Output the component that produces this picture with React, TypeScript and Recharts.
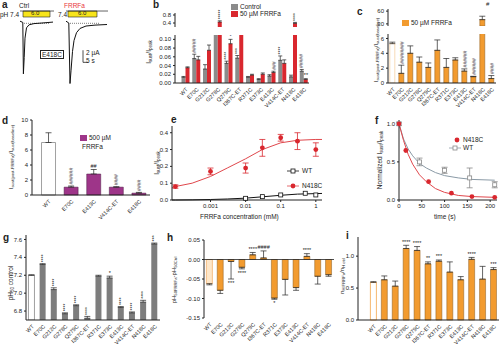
import React from "react";
import {
  ComposedChart, Bar, Line, Scatter, Cell, XAxis, YAxis, ErrorBar,
  ReferenceLine, ReferenceArea,
} from "recharts";

const FONT = "'Liberation Sans', Arial, sans-serif";
const INK = "#222";
const GRAY = "#8b8b8b";
const RED = "#d9272e";
const ORANGE = "#f29b2f";
const PURPLE = "#9e3589";

const mutants = ["WT", "E70C", "G212C", "G278C", "Q279C", "I367C-ET", "R371C", "E373C", "E413C", "V414C-ET", "N418C", "E418C"];
const dMutants = ["WT", "E70C", "E413C", "V414C-ET", "E418C"];

// a: example currents (µA vs s)
const traceCtrl = [
  { t: 20, i: 0 }, { t: 22.8, i: -0.2 }, { t: 23.4, i: -8.7 }, { t: 24.2, i: -6 }, { t: 25, i: -2.8 },
  { t: 26.5, i: -1.1 }, { t: 29, i: -0.6 }, { t: 34, i: -0.4 }, { t: 42, i: -0.3 }, { t: 53, i: -0.15 },
];
const traceFrrfa = [
  { t: 66, i: 0 }, { t: 68.8, i: -0.3 }, { t: 70, i: -10.3 }, { t: 71, i: -8.2 }, { t: 72.5, i: -5 },
  { t: 74, i: -3.2 }, { t: 76.5, i: -1.9 }, { t: 80, i: -1.2 }, { t: 86, i: -0.8 }, { t: 95, i: -0.65 }, { t: 107, i: -0.55 },
];

// b: Isust/Ipeak
const bCtrl = [0.013, 0.056, 0.032, 0.15, 0.045, 0.057, 0.013, 0.008, 0.016, 0.052, 0.014, 0.027];
const bCtrlErr = [0.002, 0.01, 0.01, 0.02, 0.005, 0.006, 0.002, 0.002, 0.003, 0.01, 0.004, 0.004];
const bFrrfa = [0.035, 0.053, 0.075, 0.45, 0.09, 0.12, 0.018, 0.02, 0.024, 0.045, 0.38, 0.008];
const bFrrfaErr = [0.002, 0.008, 0.012, 0.06, 0.01, 0.02, 0.002, 0.003, 0.003, 0.008, 0.05, 0.002];
const bCtrlAnn = ["", "#####", "", "", "****", "***", "", "", "", "****", "", "#####"];
const bFrrfaAnn = ["", "", "", "*****", "*", "", "", "", "###", "", "****", "**"];

// c: Isust post/baseline, 50 µM
const cVals = [5.3, 1.3, 4.0, 2.8, 2.1, 4.4, 2.1, 3.1, 1.6, 0.85, 40, 0.6];
const cErr = [0.2, 1.1, 1.0, 0.7, 0.6, 1.4, 1.2, 0.3, 0.3, 0.05, 8, 0.4];
const cAnn = ["", "########", "", "", "", "", "", "", "######", "######", "#", "####"];

// d: 500 µM
const dVals = [7.0, 1.05, 2.8, 1.05, 0.25];
const dErr = [1.3, 0.15, 0.6, 0.05, 0.1];
const dAnn = ["", "######", "##", "####", "####"];

// e: concentration response
const eConc = [0.0001, 0.001, 0.01, 0.03, 0.1, 0.3, 1];
const eN418C = [0.08, 0.17, 0.19, 0.31, 0.37, 0.35, 0.3];
const eN418CErr = [0.01, 0.02, 0.03, 0.05, 0.02, 0.05, 0.04];
const eWTConc = [0.01, 0.03, 0.1, 0.5, 1];
const eWT = [0.01, 0.02, 0.03, 0.04, 0.03];
const eWTErr = [0.003, 0.003, 0.004, 0.005, 0.004];
const eFitConc = [0.00008, 0.0001, 0.0003, 0.001, 0.003, 0.01, 0.03, 0.1, 0.3, 1, 1.5];
const eN418CFit = [0.075, 0.08, 0.1, 0.14, 0.19, 0.245, 0.3, 0.34, 0.355, 0.36, 0.36];
const eWTFit = [0, 0, 0.001, 0.003, 0.006, 0.011, 0.019, 0.028, 0.035, 0.038, 0.039];

// f: time course
const fTime = [0, 15, 65, 115, 160, 210];
const fN418C = [1.0, 0.65, 0.24, 0.09, 0.045, 0.035];
const fN418CErr = [0.01, 0.03, 0.02, 0.01, 0.01, 0.01];
const fWTTime = [0, 45, 100, 155, 210];
const fWT = [1.0, 0.5, 0.39, 0.29, 0.2];
const fWTErr = [0.02, 0.05, 0.04, 0.13, 0.04];
const fFitTime = [0, 10, 20, 30, 45, 60, 80, 100, 130, 160, 210];
const fN418CFit = [1.0, 0.78, 0.6, 0.47, 0.33, 0.24, 0.15, 0.1, 0.06, 0.045, 0.035];
const fWTFit = [1.0, 0.8, 0.67, 0.58, 0.48, 0.42, 0.36, 0.32, 0.29, 0.27, 0.26];

// g: pH50 control
const gVals = [7.2, 7.32, 7.04, 6.77, 6.86, 6.72, 7.19, 7.17, 6.84, 6.78, 6.9, 7.55];
const gErr = [0.005, 0.01, 0.02, 0.01, 0.01, 0.02, 0.01, 0.02, 0.01, 0.01, 0.02, 0.01];
const gAnn = ["", "****", "****", "****", "****", "****", "", "*", "****", "****", "****", "****"];

// h: ΔpH50
const hVals = [-0.062, -0.079, -0.005, -0.02, 0.012, 0.004, -0.099, -0.051, -0.072, 0.008, -0.043, -0.039];
const hErr = [0.003, 0.008, 0.045, 0.004, 0.006, 0.018, 0.003, 0.04, 0.007, 0.007, 0.02, 0.004];
const hAnn = ["", "", "***", "****", "****", "####", "*", "", "", "****", "", ""];

// i: nH ratio
const iVals = [0.59, 0.63, 0.53, 1.12, 1.09, 0.88, 0.92, 0.75, 0.63, 0.95, 0.64, 0.79];
const iErr = [0.01, 0.06, 0.08, 0.05, 0.06, 0.03, 0.02, 0.16, 0.05, 0.03, 0.2, 0.03];
const iAnn = ["", "", "", "****", "****", "**", "***", "", "", "****", "", "***"];

const rows = (names: string[], vals: number[], errs: number[], anns?: string[]) =>
  names.map((name, k) => ({
    name,
    v: vals[k],
    e: vals[k] < 0 ? [errs[k], 0] : [0, errs[k]],
    top: vals[k] < 0 ? vals[k] - errs[k] : vals[k] + errs[k],
    ann: anns ? anns[k] : "",
  }));
const pts = (xs: number[], ys: number[], es?: number[]) =>
  xs.map((x, k) => ({ x, y: ys[k], e: es ? es[k] : 0 }));

const yAxisStyle = {
  tick: { fontSize: 6, fill: INK, fontFamily: FONT },
  tickSize: 2,
  tickLine: { stroke: INK },
  axisLine: { stroke: INK },
  interval: 0 as const,
};

function SlantTick(props: any) {
  const { x, y, payload } = props;
  return (
    <g transform={`translate(${x},${y})`}>
      <text transform="rotate(-45)" textAnchor="end" dy={4} fontSize={5.5} fontFamily={FONT} fill={INK}>
        {payload.value}
      </text>
    </g>
  );
}

function starShape(vertical: boolean, dx = 0) {
  return (p: any) => {
    const s: string = p.payload?.ann ?? "";
    if (!s || p.cx == null || isNaN(p.cy)) return <g />;
    const below = p.payload.v < 0;
    const x = p.cx + dx;
    if (vertical && s.length > 2) {
      return (
        <text transform={`translate(${x + 2},${p.cy - 1.5}) rotate(-90)`} fontSize={5} fill={INK} fontFamily={FONT}>
          {s}
        </text>
      );
    }
    return (
      <text x={x} y={below ? p.cy + 6 : p.cy - 1.5} textAnchor="middle" fontSize={5.5} fill={INK} fontFamily={FONT}>
        {s}
      </text>
    );
  };
}

const dotShape = (color: string) => (p: any) => <circle cx={p.cx} cy={p.cy} r={2.4} fill={color} />;
const squareShape = (color: string) => (p: any) => (
  <rect x={p.cx - 2} y={p.cy - 2} width={4} height={4} fill="#fff" stroke={color} strokeWidth={0.8} />
);

function Abs({ left, top, children, style }: any) {
  return <div style={{ position: "absolute", left, top, whiteSpace: "nowrap", ...style }}>{children}</div>;
}
function Letter({ left, top, ch }: any) {
  return <Abs left={left} top={top} style={{ fontWeight: "bold", fontSize: 10, lineHeight: "10px" }}>{ch}</Abs>;
}
function VLabel({ cx, cy, children, size = 6.5 }: any) {
  return (
    <div style={{ position: "absolute", left: cx, top: cy, transform: "translate(-50%,-50%) rotate(-90deg)", whiteSpace: "nowrap", fontSize: size, lineHeight: "8px" }}>
      {children}
    </div>
  );
}
const Sub = ({ children }: any) => <sub style={{ fontSize: "70%", verticalAlign: "-1px" }}>{children}</sub>;
function Swatch({ left, top, color, text, size = 6.5 }: any) {
  return (
    <Abs left={left} top={top} style={{ fontSize: size, lineHeight: "7px", display: "flex", alignItems: "center" }}>
      <span style={{ display: "inline-block", width: 7, height: 6, background: color, marginRight: 2 }} />
      {text}
    </Abs>
  );
}
// clips everything above a given line (lower part of a broken axis)
function Clip({ left, top, cut, w, h, children }: any) {
  return (
    <div style={{ position: "absolute", left, top: top + cut, width: w, height: h - cut, overflow: "hidden" }}>
      <div style={{ position: "absolute", left: 0, top: -cut }}>{children}</div>
    </div>
  );
}

function SingleBars({ data, color, wtFill, wtStroke, vertical, stroke }: any) {
  return [
    <Bar key="b" dataKey="v" fill={color} stroke={stroke} strokeWidth={stroke ? 0.5 : 0} isAnimationActive={false}>
      {data.map((r: any, k: number) => (
        <Cell key={k} fill={r.name === "WT" ? wtFill : color} stroke={r.name === "WT" ? wtStroke : stroke} strokeWidth={r.name === "WT" ? 0.8 : 0.5} />
      ))}
      <ErrorBar dataKey="e" width={3} stroke={INK} strokeWidth={0.7} direction="y" />
    </Bar>,
    <Scatter key="s" data={data.filter((r: any) => r.ann && r.v != null)} dataKey="top" shape={starShape(vertical)} isAnimationActive={false} />,
  ];
}

export default function App() {
  const bRows = mutants.map((name, k) => ({
    name, c: bCtrl[k], ce: [0, bCtrlErr[k]], f: bFrrfa[k], fe: [0, bFrrfaErr[k]],
  }));
  const bUpper = bRows.map((r) => ({ ...r, c: null, ce: null, f: r.f > 0.2 ? r.f : null, fe: r.f > 0.2 ? r.fe : null }));
  const bAnnCtrl = mutants
    .map((name, k) => ({ name, v: bCtrl[k], top: bCtrl[k] + bCtrlErr[k], ann: bCtrlAnn[k] }))
    .filter((r) => r.ann && r.top < 0.11);
  const bAnnFrrfa = mutants
    .map((name, k) => ({ name, v: bFrrfa[k], top: bFrrfa[k] + bFrrfaErr[k], ann: bFrrfaAnn[k] }))
    .filter((r) => r.ann);
  const bAnnFLow = bAnnFrrfa.filter((r) => r.top < 0.11);
  const bAnnFHigh = bAnnFrrfa.filter((r) => r.v > 0.2);

  const cRows = rows(mutants, cVals, cErr, cAnn);
  const cLow = cRows.map((r) => ({ ...r, ann: r.v > 6 ? "" : r.ann }));
  const cHigh = cRows.map((r) => (r.v > 25 ? r : { ...r, v: null, e: null, ann: "" }));
  const dRows = rows(dMutants, dVals, dErr, dAnn);
  const gRows = rows(mutants, gVals, gErr, gAnn);
  const hRows = rows(mutants, hVals, hErr, hAnn);
  const iRows = rows(mutants, iVals, iErr, iAnn);

  const sideX = {
    dataKey: "name", interval: 0 as const, tick: <SlantTick />, tickSize: 2, tickLine: false,
    axisLine: { stroke: INK }, allowDuplicatedCategory: false,
  };

  return (
    <div style={{ position: "absolute", left: 0, top: 0, width: 500, height: 352, background: "#fff", fontFamily: FONT, color: INK, overflow: "hidden" }}>
      {/* a */}
      <Letter left={2} top={0} ch="a" />
      <Abs left={0} top={11} style={{ fontSize: 6.5, lineHeight: "7px" }}>pH 7.4</Abs>
      <Abs left={58} top={11} style={{ fontSize: 6.5, lineHeight: "7px" }}>7.4</Abs>
      <Abs left={19} top={2} style={{ fontSize: 6.5, lineHeight: "7px" }}>Ctrl</Abs>
      <Abs left={64} top={2} style={{ fontSize: 6.5, lineHeight: "7px", color: "#e8363c" }}>FRRFa</Abs>
      <div style={{ position: "absolute", left: 0, top: 0 }}>
        <ComposedChart width={125} height={115} margin={{ top: 0, right: 0, bottom: 0, left: 0 }}>
          <XAxis type="number" dataKey="t" domain={[0, 125]} hide />
          <YAxis type="number" dataKey="i" domain={[-15.5, 3.5]} hide />
          <ReferenceLine segment={[{ x: 20, y: 1.68 }, { x: 54, y: 1.68 }]} stroke={INK} strokeWidth={0.7} />
          <ReferenceLine segment={[{ x: 66, y: 1.68 }, { x: 108, y: 1.68 }]} stroke={INK} strokeWidth={0.7} />
          <ReferenceArea x1={23} x2={50} y1={0.69} y2={1.68} fill="#f7e41a" fillOpacity={1} stroke={INK} strokeWidth={0.6} />
          <ReferenceArea x1={68} x2={97} y1={0.69} y2={1.68} fill="#f7e41a" fillOpacity={1} stroke={INK} strokeWidth={0.6} />
          <ReferenceLine segment={[{ x: 24, y: -0.35 }, { x: 50, y: -0.35 }]} stroke={INK} strokeWidth={0.6} strokeDasharray="1 1" />
          <ReferenceLine segment={[{ x: 70, y: -0.35 }, { x: 100, y: -0.35 }]} stroke={INK} strokeWidth={0.6} strokeDasharray="1 1" />
          <ReferenceLine segment={[{ x: 83, y: -4.8 }, { x: 83, y: -6.8 }]} stroke={INK} strokeWidth={0.8} />
          <ReferenceLine segment={[{ x: 83, y: -6.8 }, { x: 88, y: -6.8 }]} stroke={INK} strokeWidth={0.8} />
          <Line data={traceCtrl} dataKey="i" stroke="#111" strokeWidth={1} dot={false} activeDot={false} legendType="none" isAnimationActive={false} />
          <Line data={traceFrrfa} dataKey="i" stroke="#111" strokeWidth={1} dot={false} activeDot={false} legendType="none" isAnimationActive={false} />
        </ComposedChart>
      </div>
      <Abs left={31} top={10} style={{ fontSize: 6, lineHeight: "7px" }}>6.0</Abs>
      <Abs left={78} top={10} style={{ fontSize: 6, lineHeight: "7px" }}>6.0</Abs>
      <Abs left={40} top={50} style={{ fontSize: 6.5, border: "0.8px solid #222", padding: "0 1px", lineHeight: "7px" }}>E418C</Abs>
      <Abs left={86} top={49} style={{ fontSize: 6.5, lineHeight: "7px" }}>2 µA</Abs>
      <Abs left={86} top={57} style={{ fontSize: 6.5, lineHeight: "7px" }}>5 s</Abs>

      {/* b */}
      <Letter left={153} top={0} ch="b" />
      <VLabel cx={150} cy={52}>I<Sub>sust</Sub>/I<Sub>peak</Sub></VLabel>
      <Swatch left={231} top={3} color={GRAY} text="Control" />
      <Swatch left={231} top={10} color={RED} text="50 µM FRRFa" />
      <Clip left={128} top={0} cut={34} w={182} h={115}>
        <ComposedChart width={182} height={115} data={bRows} margin={{ top: 35, right: 1, bottom: 0, left: 0 }} barCategoryGap="14%" barGap={0}>
          <XAxis {...sideX} height={32} padding={{ left: 5, right: 0 }} />
          <YAxis width={47} domain={[0, 0.11]} ticks={[0, 0.02, 0.04, 0.06, 0.08, 0.1]} allowDataOverflow tickFormatter={(v: number) => v.toFixed(2)} {...yAxisStyle} />
          <Bar dataKey="c" fill={GRAY} isAnimationActive={false}>
            <ErrorBar dataKey="ce" width={2} stroke={INK} strokeWidth={0.7} direction="y" />
          </Bar>
          <Bar dataKey="f" fill={RED} isAnimationActive={false}>
            <ErrorBar dataKey="fe" width={2} stroke={INK} strokeWidth={0.7} direction="y" />
          </Bar>
          <Scatter data={bAnnCtrl} dataKey="top" shape={starShape(true, -2.3)} isAnimationActive={false} />
          <Scatter data={bAnnFLow} dataKey="top" shape={starShape(true, 2.3)} isAnimationActive={false} />
        </ComposedChart>
      </Clip>
      <div style={{ position: "absolute", left: 128, top: 0 }}>
        <ComposedChart width={182} height={27} data={bUpper} margin={{ top: 13, right: 1, bottom: 0, left: 0 }} barCategoryGap="14%" barGap={0}>
          <XAxis dataKey="name" hide padding={{ left: 5, right: 0 }} allowDuplicatedCategory={false} />
          <YAxis width={47} domain={[0.2, 0.9]} ticks={[0.4, 0.8]} allowDataOverflow tickFormatter={(v: number) => v.toFixed(1)} {...yAxisStyle} />
          <Bar dataKey="c" fill={GRAY} isAnimationActive={false} />
          <Bar dataKey="f" fill={RED} isAnimationActive={false}>
            <ErrorBar dataKey="fe" width={2} stroke={INK} strokeWidth={0.7} direction="y" />
          </Bar>
        </ComposedChart>
      </div>
      <div style={{ position: "absolute", left: 128, top: 0 }}>
        <ComposedChart width={182} height={27} data={bUpper} margin={{ top: 13, right: 1, bottom: 0, left: 0 }} barCategoryGap="14%" barGap={0}>
          <XAxis dataKey="name" hide padding={{ left: 5, right: 0 }} allowDuplicatedCategory={false} />
          <YAxis width={47} domain={[0.2, 0.9]} tick={false} axisLine={false} tickLine={false} />
          <Bar dataKey="c" fill="none" isAnimationActive={false} />
          <Bar dataKey="f" fill="none" isAnimationActive={false} />
          <Scatter data={bAnnFHigh} dataKey="top" shape={starShape(true, 2.3)} isAnimationActive={false} />
        </ComposedChart>
      </div>

      {/* c */}
      <Letter left={357} top={7} ch="c" />
      <VLabel cx={377} cy={50} size={6}>I<Sub>sust(post-FRRFa)</Sub>/I<Sub>sust(baseline)</Sub></VLabel>
      <Swatch left={402} top={19} color={ORANGE} text="50 µM FRRFa" />
      <Clip left={360} top={0} cut={31} w={137} h={115}>
        <ComposedChart width={137} height={115} data={cLow} margin={{ top: 34, right: 1, bottom: 0, left: 0 }} barCategoryGap="20%">
          <XAxis {...sideX} height={32} />
          <YAxis width={28} domain={[0, 6.6]} ticks={[0, 2, 4, 6]} allowDataOverflow {...yAxisStyle} />
          {SingleBars({ data: cLow, color: ORANGE, wtFill: "#fff", wtStroke: "#f6d2a6", vertical: true, stroke: "#8a5a1c" })}
        </ComposedChart>
      </Clip>
      <div style={{ position: "absolute", left: 360, top: 0 }}>
        <ComposedChart width={137} height={26} data={cHigh} margin={{ top: 9, right: 1, bottom: 0, left: 0 }} barCategoryGap="20%">
          <XAxis dataKey="name" hide allowDuplicatedCategory={false} />
          <YAxis width={28} domain={[25, 65]} ticks={[30, 60]} allowDataOverflow {...yAxisStyle} />
          <Bar dataKey="v" fill={ORANGE} stroke="#8a5a1c" strokeWidth={0.5} isAnimationActive={false}>
            <ErrorBar dataKey="e" width={3} stroke={INK} strokeWidth={0.7} direction="y" />
          </Bar>
        </ComposedChart>
      </div>
      <Abs left={486} top={1} style={{ fontSize: 6 }}>#</Abs>

      {/* d */}
      <Letter left={2} top={116} ch="d" />
      <VLabel cx={12} cy={157} size={6}>I<Sub>sust(post-FRRFa)</Sub>/I<Sub>sust(baseline)</Sub></VLabel>
      <Swatch left={80} top={134} color={PURPLE} text="500 µM" />
      <Abs left={82} top={143} style={{ fontSize: 6.5 }}>FRRFa</Abs>
      <div style={{ position: "absolute", left: 0, top: 115 }}>
        <ComposedChart width={151} height={110} data={dRows} margin={{ top: 5, right: 1, bottom: 0, left: 0 }} barCategoryGap="20%">
          <XAxis {...sideX} height={30} padding={{ left: 5, right: 0 }} />
          <YAxis width={32} domain={[0, 10]} ticks={[0, 2, 4, 6, 8, 10]} {...yAxisStyle} />
          {SingleBars({ data: dRows, color: PURPLE, wtFill: "#fff", wtStroke: "#888", vertical: true, stroke: "#4a1a40" })}
        </ComposedChart>
      </div>

      {/* e */}
      <Letter left={171} top={115} ch="e" />
      <VLabel cx={158} cy={163}>I<Sub>sust</Sub>/I<Sub>peak</Sub></VLabel>
      <div style={{ position: "absolute", left: 145, top: 115 }}>
        <ComposedChart width={178} height={97} margin={{ top: 11, right: 1, bottom: 0, left: 0 }}>
          <XAxis type="number" dataKey="x" scale="log" domain={[0.00008, 1.5]} ticks={[0.001, 0.01, 0.1, 1]} allowDataOverflow height={12} {...yAxisStyle} tickFormatter={(v: number) => String(v)} />
          <YAxis type="number" dataKey="y" width={27} domain={[0, 0.44]} ticks={[0, 0.1, 0.2, 0.3, 0.4]} tickFormatter={(v: number) => v.toFixed(1)} {...yAxisStyle} />
          <Line data={pts(eFitConc, eN418CFit)} dataKey="y" stroke="#e0474c" strokeWidth={1} dot={false} isAnimationActive={false} />
          <Line data={pts(eFitConc, eWTFit)} dataKey="y" stroke="#111" strokeWidth={1} dot={false} isAnimationActive={false} />
          <Scatter data={pts(eConc, eN418C, eN418CErr)} dataKey="y" shape={dotShape(RED)} isAnimationActive={false}>
            <ErrorBar dataKey="e" width={3} stroke={RED} strokeWidth={0.8} direction="y" />
          </Scatter>
          <Scatter data={pts(eWTConc, eWT, eWTErr)} dataKey="y" shape={squareShape("#111")} isAnimationActive={false} />
        </ComposedChart>
      </div>
      <Abs left={287} top={167} style={{ fontSize: 6.5, display: "flex", alignItems: "center" }}>
        <svg width={12} height={6}><line x1={0} y1={3} x2={12} y2={3} stroke="#111" strokeWidth={0.8} /><rect x={4} y={1} width={4} height={4} fill="#fff" stroke="#111" strokeWidth={0.8} /></svg>
        <span style={{ marginLeft: 3 }}>WT</span>
      </Abs>
      <Abs left={287} top={182} style={{ fontSize: 6.5, display: "flex", alignItems: "center" }}>
        <svg width={12} height={6}><line x1={0} y1={3} x2={12} y2={3} stroke="#e0474c" strokeWidth={0.8} /><circle cx={6} cy={3} r={2.4} fill={RED} /></svg>
        <span style={{ marginLeft: 3 }}>N418C</span>
      </Abs>
      <Abs left={200} top={213} style={{ fontSize: 6.5 }}>FRRFa concentration (mM)</Abs>

      {/* f */}
      <Letter left={375} top={116} ch="f" />
      <VLabel cx={381} cy={160}>Normalized I<Sub>sust</Sub>/I<Sub>peak</Sub></VLabel>
      <div style={{ position: "absolute", left: 375, top: 115 }}>
        <ComposedChart width={123} height={97} margin={{ top: 5, right: 1, bottom: 0, left: 0 }}>
          <XAxis type="number" dataKey="x" domain={[0, 215]} ticks={[0, 50, 100, 150, 200]} height={12} {...yAxisStyle} />
          <YAxis type="number" dataKey="y" width={24} domain={[0, 1.05]} ticks={[0, 0.5, 1]} tickFormatter={(v: number) => v.toFixed(1)} {...yAxisStyle} />
          <Line data={pts(fFitTime, fWTFit)} dataKey="y" stroke="#8a9aa6" strokeWidth={1} dot={false} isAnimationActive={false} />
          <Line data={pts(fFitTime, fN418CFit)} dataKey="y" stroke="#e0474c" strokeWidth={1} dot={false} isAnimationActive={false} />
          <Scatter data={pts(fWTTime, fWT, fWTErr)} dataKey="y" shape={squareShape("#888")} isAnimationActive={false}>
            <ErrorBar dataKey="e" width={3} stroke="#888" strokeWidth={0.8} direction="y" />
          </Scatter>
          <Scatter data={pts(fTime, fN418C, fN418CErr)} dataKey="y" shape={dotShape(RED)} isAnimationActive={false} />
        </ComposedChart>
      </div>
      <Abs left={453} top={136} style={{ fontSize: 6.5, display: "flex", alignItems: "center" }}>
        <svg width={8} height={6}><circle cx={4} cy={3} r={2.4} fill={RED} /></svg>
        <span style={{ marginLeft: 2 }}>N418C</span>
      </Abs>
      <Abs left={449} top={144} style={{ fontSize: 6.5, display: "flex", alignItems: "center" }}>
        <svg width={12} height={6}><line x1={0} y1={3} x2={12} y2={3} stroke="#8a9aa6" strokeWidth={0.8} /><rect x={4} y={1} width={4} height={4} fill="#fff" stroke="#888" strokeWidth={0.8} /></svg>
        <span style={{ marginLeft: 2 }}>WT</span>
      </Abs>
      <Abs left={434} top={213} style={{ fontSize: 6.5 }}>time (s)</Abs>

      {/* g */}
      <Letter left={3} top={233} ch="g" />
      <VLabel cx={12} cy={283}>pH<Sub>50</Sub> control</VLabel>
      <div style={{ position: "absolute", left: 0, top: 225 }}>
        <ComposedChart width={161} height={127} data={gRows} margin={{ top: 10, right: 1, bottom: 0, left: 0 }} barCategoryGap="22%">
          <XAxis {...sideX} height={32} />
          <YAxis width={26} domain={[6.7, 7.65]} ticks={[6.8, 7.0, 7.2, 7.4, 7.6]} allowDataOverflow tickFormatter={(v: number) => v.toFixed(1)} {...yAxisStyle} />
          {SingleBars({ data: gRows, color: "#7d7d7d", wtFill: "#fff", wtStroke: "#888", vertical: true })}
        </ComposedChart>
      </div>

      {/* h */}
      <Letter left={167} top={233} ch="h" />
      <VLabel cx={175} cy={280} size={6}>pH<Sub>50FRRFa</Sub>-pH<Sub>50Ctrl</Sub></VLabel>
      <div style={{ position: "absolute", left: 165, top: 225 }}>
        <ComposedChart width={170} height={127} data={hRows} margin={{ top: 15, right: 1, bottom: 0, left: 0 }} barCategoryGap="22%">
          <XAxis {...sideX} axisLine={false} height={34} />
          <YAxis width={39} domain={[-0.15, 0.05]} ticks={[-0.15, -0.1, -0.05, 0, 0.05]} tickFormatter={(v: number) => v.toFixed(2)} {...yAxisStyle} />
          <ReferenceLine y={0} stroke={INK} strokeWidth={0.8} />
          {SingleBars({ data: hRows, color: ORANGE, wtFill: "#fde6c8", wtStroke: "#f2b46e", vertical: false, stroke: "#8a5a1c" })}
        </ComposedChart>
      </div>

      {/* i */}
      <Letter left={346} top={231} ch="i" />
      <VLabel cx={343} cy={276} size={6}>n<Sub>H FRRFa</Sub>/n<Sub>H ctrl</Sub></VLabel>
      <div style={{ position: "absolute", left: 335, top: 225 }}>
        <ComposedChart width={165} height={127} data={iRows} margin={{ top: 12, right: 1, bottom: 0, left: 0 }} barCategoryGap="22%">
          <XAxis {...sideX} height={32} padding={{ left: 10, right: 0 }} />
          <YAxis width={23} domain={[0, 1.3]} ticks={[0, 0.5, 1]} tickFormatter={(v: number) => v.toFixed(1)} {...yAxisStyle} />
          {SingleBars({ data: iRows, color: ORANGE, wtFill: "#fff", wtStroke: "#f2a54a", vertical: false, stroke: "#8a5a1c" })}
        </ComposedChart>
      </div>
    </div>
  );
}
